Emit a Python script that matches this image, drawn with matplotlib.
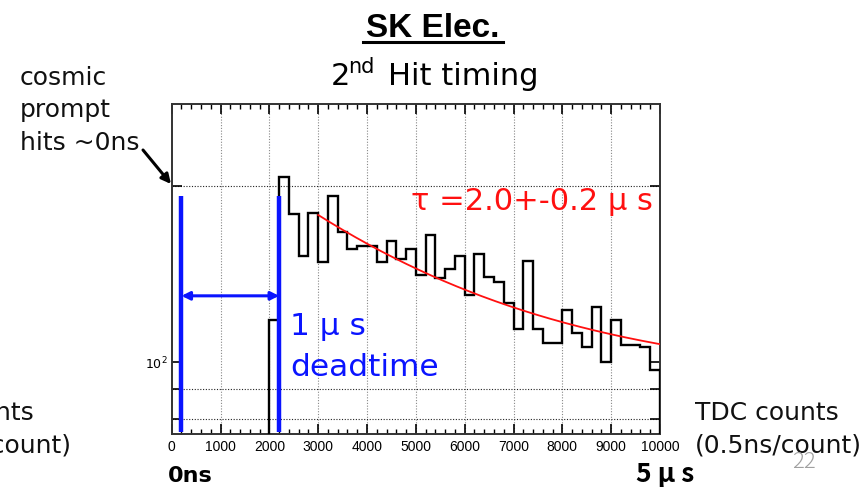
import numpy as np
import matplotlib
matplotlib.use("Agg")
import matplotlib.pyplot as plt
from matplotlib.lines import Line2D
from matplotlib.patches import FancyArrowPatch
from matplotlib.ticker import FixedLocator, FixedFormatter, MultipleLocator

# ---------------- data ----------------
bin_start = 2000
bin_width = 200
counts = [118, 207, 179, 152, 180, 148, 192, 167, 156, 158,
          158, 148, 161, 150, 156, 141, 165, 139, 144, 152,
          130, 153, 140, 137, 126, 114, 149, 114, 108, 108,
          123, 112, 106, 124, 100, 118, 107, 107, 106, 97]
fit_amp = 182.0
fit_tau = 4000.0      # 2.0 us in TDC counts (0.5 ns/count)
fit_const = 92.4
fit_range = (3000, 10000)
x_ticks = list(range(0, 10001, 1000))
y_ticks = [80, 90, 100, 200]
y_tick_labels = ["", "", r"$10^{2}$", ""]
y_grid_values = [80, 90, 200]
deadtime_marks = [200, 2200]

W, H = 868, 487
fig = plt.figure(figsize=(W / 100, H / 100), dpi=100)

def px(x, y):
    return x / W, 1 - y / H

left, right, top, bottom = 171.7, 660.0, 104.3, 434.0
ax = fig.add_axes([left / W, 1 - bottom / H, (right - left) / W, (bottom - top) / H])

edges = bin_start + bin_width * np.arange(len(counts) + 1)
ymin, ymax = 75.4, 275.6
ax.set_yscale("log")
ax.set_xlim(0, 10000)
ax.set_ylim(ymin, ymax)

ax.stairs(counts, edges, baseline=ymin, color="black", lw=1.7, zorder=3)

xf = np.linspace(fit_range[0], fit_range[1], 300)
yf = fit_amp * np.exp(-xf / fit_tau) + fit_const
ax.plot(xf, yf, color="#ff1010", lw=1.3, zorder=4)

# grid
for xv in x_ticks[1:-1]:
    ax.axvline(xv, color="#888888", lw=0.8, ls=(0, (1, 1.5)), zorder=1)
for yv in y_grid_values:
    ax.axhline(yv, color="#222222", lw=0.8, ls=(0, (1, 1.5)), zorder=1)

# ticks
ax.xaxis.set_major_locator(FixedLocator(x_ticks))
ax.xaxis.set_minor_locator(MultipleLocator(200))
ax.yaxis.set_major_locator(FixedLocator(y_ticks))
ax.yaxis.set_major_formatter(FixedFormatter(y_tick_labels))
ax.yaxis.set_minor_locator(FixedLocator([]))
ax.tick_params(axis="x", which="major", direction="in", length=7, width=1.2,
               top=True, bottom=True, labelsize=10, pad=4, colors="black")
ax.tick_params(axis="x", which="minor", direction="in", length=3.5, width=1.0,
               top=True, bottom=True)
ax.tick_params(axis="y", which="major", direction="in", length=7, width=1.2,
               left=True, right=True, labelsize=9, pad=3)
for lab in ax.get_xticklabels() + ax.get_yticklabels():
    lab.set_fontfamily("Liberation Sans")
for s in ax.spines.values():
    s.set_linewidth(1.4)
    s.set_color("#333333")

# blue deadtime lines and arrow
for xv in deadtime_marks:
    ax.plot([xv, xv], [76.1, 192.0], color="#0a14ff", lw=3.2, zorder=5,
            solid_capstyle="butt")
ax.annotate("", xy=(deadtime_marks[0], 129.8), xytext=(deadtime_marks[1], 129.8),
            arrowprops=dict(arrowstyle="<|-|>", color="#0a14ff", lw=2.2,
                            mutation_scale=12, shrinkA=0, shrinkB=0), zorder=5)

jp = ["Noto Sans CJK JP", "DejaVu Sans"]
dv = ["DejaVu Sans"]

# annotation texts
fig.text(*px(411, 210), "τ =2.0+-0.2 μ s", color="#ff1010", fontsize=22,
         family=dv, va="baseline", ha="left")
fig.text(*px(290, 335), "1 μ s", color="#0a14ff", fontsize=22.5,
         family=dv, va="baseline", ha="left")
fig.text(*px(290, 376), "deadtime", color="#0a14ff", fontsize=22.5,
         family=dv, va="baseline", ha="left")

# titles
fig.text(*px(433, 37), "SK Elec.", fontsize=24, fontweight="bold",
         family=["Liberation Sans"], ha="center", va="baseline")
fig.add_artist(Line2D([363 / W, 503 / W], [1 - 42 / H, 1 - 42 / H],
                      color="black", lw=2.2, transform=fig.transFigure))
fig.text(*px(331, 85), "2", fontsize=22, family=dv, ha="left", va="baseline")
fig.text(*px(348, 73), "nd", fontsize=15, family=dv, ha="left", va="baseline")
fig.text(*px(388, 85), "Hit timing", fontsize=22, family=dv, ha="left", va="baseline")

# cosmic text
for txt, yb in [("cosmic", 85), ("prompt", 117), ("hits ~0ns", 150)]:
    fig.text(*px(20, yb), txt, fontsize=18, family=dv, ha="left", va="baseline",
             color="#111111")
fig.add_artist(FancyArrowPatch(
    px(143, 150), px(171, 184), transform=fig.transFigure,
    arrowstyle="-|>", mutation_scale=14, color="black", lw=2.2,
    shrinkA=0, shrinkB=0))

# axis side labels
fig.text(*px(695, 420), "TDC counts", fontsize=18, family=dv, ha="left",
         va="baseline", color="#111111")
fig.text(*px(695, 453), "(0.5ns/count)", fontsize=18, family=dv, ha="left",
         va="baseline", color="#111111")
fig.text(*px(34, 420), "TDC counts", fontsize=18, family=dv, ha="right",
         va="baseline", color="#111111")
fig.text(*px(72, 453), "(0.5ns/count)", fontsize=18, family=dv, ha="right",
         va="baseline", color="#111111")
fig.text(*px(804, 468), "22", fontsize=16, family=jp, ha="center",
         va="baseline", color="#a0a0a0", fontweight="light")

fig.text(*px(190, 482), "0ns", fontsize=16, fontweight="bold", family=dv,
         ha="center", va="baseline")
fig.text(*px(665, 482), "5 μ s", fontsize=19, fontweight="bold", family=jp,
         ha="center", va="baseline")

fig.savefig("out.png", dpi=100)
